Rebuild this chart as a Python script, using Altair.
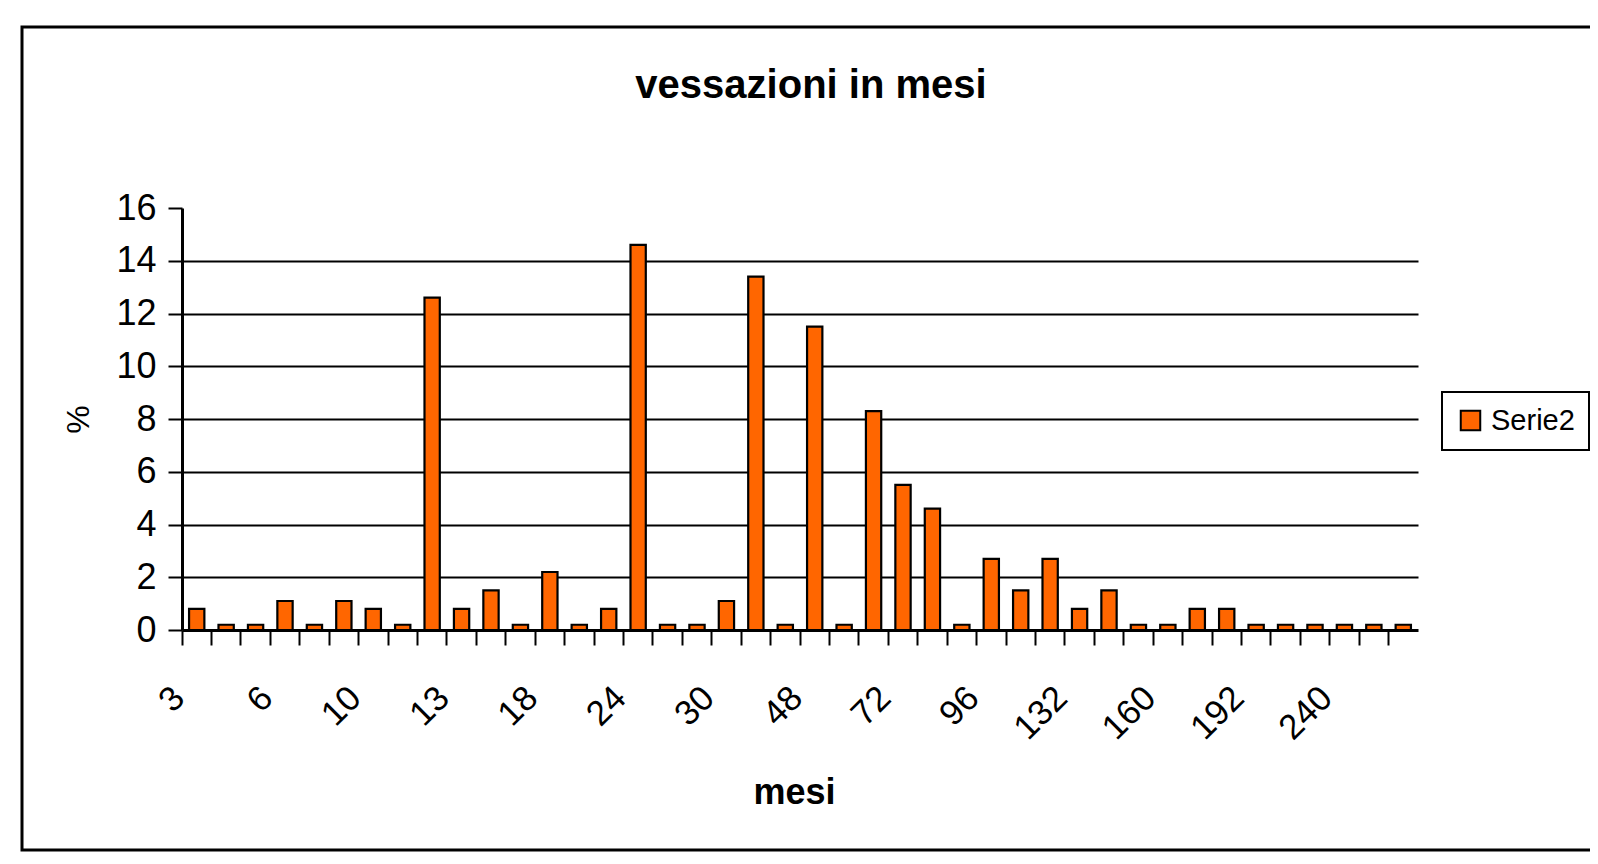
import json
import altair as alt
import pandas as pd

# ---- data ----
chart_title = "vessazioni in mesi"
x_title = "mesi"
y_title = "%"
series_name = "Serie2"

categories = ["3", "4", "5", "6", "7", "8", "10", "11", "12", "13", "14", "15",
              "18", "20", "22", "24", "25", "27", "30", "36", "42", "48", "54", "60",
              "72", "84", "90", "96", "108", "120", "132", "144", "150", "160", "168", "180",
              "192", "200", "216", "240", "252", "300"]
values = [0.8, 0.2, 0.2, 1.1, 0.2, 1.1, 0.8, 0.2, 12.6, 0.8, 1.5, 0.2,
          2.2, 0.2, 0.8, 14.6, 0.2, 0.2, 1.1, 13.4, 0.2, 11.5, 0.2, 8.3,
          5.5, 4.6, 0.2, 2.7, 1.5, 2.7, 0.8, 1.5, 0.2, 0.2, 0.8, 0.8,
          0.2, 0.2, 0.2, 0.2, 0.2, 0.2]
shown_labels = ["3", "6", "10", "13", "18", "24", "30", "48", "72", "96", "132", "160", "192", "240"]
y_ticks = [0, 2, 4, 6, 8, 10, 12, 14, 16]

df = pd.DataFrame({"mesi": categories, "pct": values, "serie": [series_name] * len(categories)})

FONT = "Liberation Sans"
W, H = 1236, 422

label_expr = "indexof(" + json.dumps(shown_labels) + ", datum.value) >= 0 ? datum.label : ''"

bars = alt.Chart(df).mark_bar(
    width=alt.RelativeBandSize(0.52), stroke="black", strokeWidth=2.2
).encode(
    x=alt.X("mesi:N", sort=categories,
            scale=alt.Scale(domain=categories, paddingInner=0, paddingOuter=0),
            axis=alt.Axis(title=x_title, titleFont=FONT, titleFontSize=36, titleFontWeight="bold",
                          titleColor="black", titleX=612, titleY=173, titleAlign="center",
                          titleBaseline="alphabetic",
                          bandPosition=0, labelExpr=label_expr, labelOverlap=False,
                          labelAngle=315, labelAlign="right", labelBaseline="top",
                          labelFont=FONT, labelFontSize=35, labelColor="black",
                          labelPadding=35, labelOffset=-30,
                          tickSize=15, tickWidth=2, tickColor="black",
                          domainColor="black", domainWidth=3, grid=False)),
    y=alt.Y("pct:Q", scale=alt.Scale(domain=[0, 16], nice=False),
            axis=alt.Axis(values=y_ticks, title=y_title, titleFont=FONT, titleFontSize=32,
                          titleFontWeight="normal", titleColor="black", titleAngle=270,
                          titleX=-104, titleY=211, titleAlign="center", titleBaseline="middle",
                          labelFont=FONT, labelFontSize=36, labelColor="black", labelPadding=12,
                          tickSize=14, tickWidth=2, tickColor="black",
                          domainColor="black", domainWidth=3,
                          grid=True, gridColor="black", gridWidth=2,
                          gridOpacity=alt.condition("datum.value == 16 || datum.value == 0",
                                                    alt.value(0), alt.value(1)))),
    color=alt.Color("serie:N", scale=alt.Scale(domain=[series_name], range=["#FF6600"]),
                    legend=alt.Legend(title=None, orient="none", legendX=1260, legendY=184,
                                      strokeColor="black", fillColor="white", padding=14,
                                      symbolType="square", symbolSize=380,
                                      symbolStrokeColor="black", symbolStrokeWidth=2,
                                      symbolOpacity=1,
                                      labelFont=FONT, labelFontSize=29, labelColor="black",
                                      labelOffset=6)),
)

frame = alt.Chart(alt.Data(values=[{"f": 1}])).mark_rect(
    fillOpacity=0, stroke="black", strokeWidth=3
).encode(x=alt.value(-160), x2=alt.value(1460), y=alt.value(-181), y2=alt.value(642))

title = alt.Chart(alt.Data(values=[{"t": chart_title}])).mark_text(
    font=FONT, fontSize=40, fontWeight="bold", color="black", align="center", baseline="alphabetic"
).encode(text="t:N", x=alt.value(629), y=alt.value(-110))

chart = alt.layer(frame, bars, title).properties(
    width=W, height=H,
    autosize=alt.AutoSizeParams(type="none"),
    padding={"left": 174, "top": 200, "right": 172, "bottom": 222},
    background="white",
).configure_view(strokeWidth=0).configure_legend(strokeWidth=2)

chart.save("out.html", embed_options={"renderer": "svg", "actions": False})
